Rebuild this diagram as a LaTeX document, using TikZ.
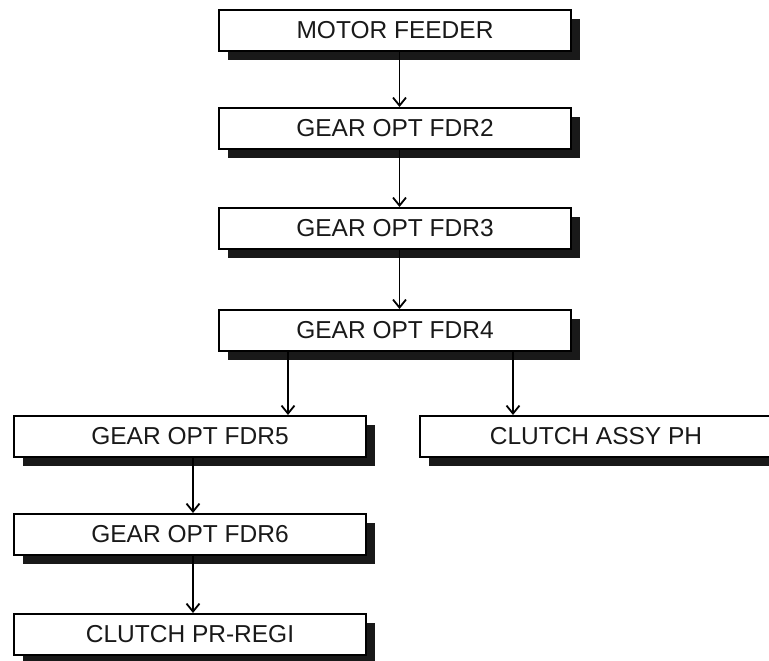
\documentclass[tikz,border=0pt]{standalone}
\usepackage{fontspec}
\setmainfont{Liberation Sans}
\usetikzlibrary{arrows.meta, positioning, shadows}

\begin{document}
\begin{tikzpicture}[
  part/.style={draw, line width=1.6pt, fill=white, minimum width=352.4pt, minimum height=41.4pt,
    inner sep=0pt, font=\fontsize{24.5}{27}\selectfont, text=black!90,
    drop shadow={shadow xshift=9pt, shadow yshift=-9pt, fill=black!90, opacity=1}},
  arr/.style={line width=1.8pt, -{Straight Barb[length=8pt, width=13pt, line width=1.8pt]}},
  node distance=56pt
]
  \useasboundingbox (0,0) rectangle (769pt,-661pt);
  \node[part] (mf) at (395pt,-30.5pt) {MOTOR FEEDER};
  \node[part, below=55pt of mf] (fdr2) {GEAR OPT FDR2};
  \node[part, below=57pt of fdr2] (fdr3) {GEAR OPT FDR3};
  \node[part, below=59pt of fdr3] (fdr4) {GEAR OPT FDR4};
  \node[part, below=63pt of fdr4, xshift=-205pt] (fdr5) {GEAR OPT FDR5};
  \node[part, below=63pt of fdr4, xshift=201pt] (assy) {CLUTCH ASSY PH};
  \node[part, below=55pt of fdr5] (fdr6) {GEAR OPT FDR6};
  \node[part, below=57pt of fdr6] (regi) {CLUTCH PR-REGI};

  % main column
  \draw[arr] ([xshift=4.5pt]mf.south) -- ([xshift=4.5pt]fdr2.north);
  \draw[arr] ([xshift=4.5pt]fdr2.south) -- ([xshift=4.5pt]fdr3.north);
  \draw[arr] ([xshift=4.5pt]fdr3.south) -- ([xshift=4.5pt]fdr4.north);
  % branch
  \draw[arr] ([xshift=-107pt]fdr4.south) -- ([xshift=-107pt]fdr4.south |- fdr5.north);
  \draw[arr] ([xshift=118pt]fdr4.south) -- ([xshift=118pt]fdr4.south |- assy.north);
  % left column
  \draw[arr] ([xshift=3pt]fdr5.south) -- ([xshift=3pt]fdr6.north);
  \draw[arr] ([xshift=3pt]fdr6.south) -- ([xshift=3pt]regi.north);
\end{tikzpicture}
\end{document}
